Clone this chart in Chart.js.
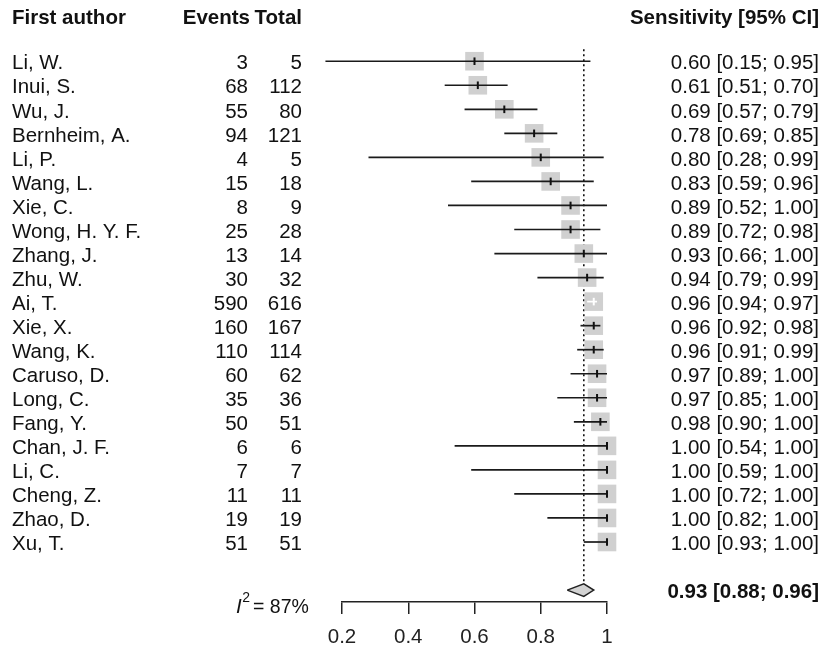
<!DOCTYPE html>
<html>
<head>
<meta charset="utf-8">
<script src="https://cdn.jsdelivr.net/npm/chart.js@4.4.1/dist/chart.umd.min.js"></script>
<style>
  html, body { margin: 0; padding: 0; background: #ffffff; }
  #wrap { width: 825px; height: 660px; position: relative; }
</style>
</head>
<body>
<div id="wrap"><canvas id="c" width="825" height="660"></canvas></div>
<script>
// ---------------- data ----------------
const authors = ["Li, W.", "Inui, S.", "Wu, J.", "Bernheim, A.", "Li, P.", "Wang, L.", "Xie, C.",
  "Wong, H. Y. F.", "Zhang, J.", "Zhu, W.", "Ai, T.", "Xie, X.", "Wang, K.", "Caruso, D.",
  "Long, C.", "Fang, Y.", "Chan, J. F.", "Li, C.", "Cheng, Z.", "Zhao, D.", "Xu, T."];
const events = [3, 68, 55, 94, 4, 15, 8, 25, 13, 30, 590, 160, 110, 60, 35, 50, 6, 7, 11, 19, 51];
const totals = [5, 112, 80, 121, 5, 18, 9, 28, 14, 32, 616, 167, 114, 62, 36, 51, 6, 7, 11, 19, 51];
const sensitivity = [0.60, 0.61, 0.69, 0.78, 0.80, 0.83, 0.89, 0.89, 0.93, 0.94, 0.96, 0.96, 0.96, 0.97, 0.97, 0.98, 1.00, 1.00, 1.00, 1.00, 1.00];
const lowerCI = [0.15, 0.51, 0.57, 0.69, 0.28, 0.59, 0.52, 0.72, 0.66, 0.79, 0.94, 0.92, 0.91, 0.89, 0.85, 0.90, 0.54, 0.59, 0.72, 0.82, 0.93];
const upperCI = [0.95, 0.70, 0.79, 0.85, 0.99, 0.96, 1.00, 0.98, 1.00, 0.99, 0.97, 0.98, 0.99, 1.00, 1.00, 1.00, 1.00, 1.00, 1.00, 1.00, 1.00];
const pooled = [0.93, 0.88, 0.96];   // estimate, lower, upper
const i2Value = 87;
const xTickValues = [0.2, 0.4, 0.6, 0.8, 1.0];
const headers = ["First author", "Events", "Total", "Sensitivity [95% CI]"];

// ---------------- layout constants ----------------
const FONT = '"Liberation Sans", Arial, Helvetica, sans-serif';
const FS = 20.5;
const SQUARE_SIDE = 18.6;
const summaryRow = authors.length + 1;

const fmt = v => v.toFixed(2);

// datasets built from the arrays
const squarePts = sensitivity.map((v, i) => ({ x: v, y: i }));
const ciPts = [];
lowerCI.forEach((lo, i) => {
  ciPts.push({ x: lo, y: i });
  ciPts.push({ x: upperCI[i], y: i });
  ciPts.push({ x: upperCI[i], y: null });
});
const diamondPts = [
  { x: pooled[1], y: summaryRow },
  { x: pooled[0], y: summaryRow - 0.26 },
  { x: pooled[2], y: summaryRow },
  { x: pooled[0], y: summaryRow + 0.26 },
  { x: pooled[1], y: summaryRow }
];
const refLinePts = [{ x: pooled[0], y: -0.5 }, { x: pooled[0], y: summaryRow }];

function ciInside(chart, i) {
  const xs = chart.scales.x;
  return (xs.getPixelForValue(upperCI[i]) - xs.getPixelForValue(lowerCI[i])) < SQUARE_SIDE;
}

const textPlugin = {
  id: 'forestText',
  afterDraw(chart) {
    const ctx = chart.ctx;
    const ys = chart.scales.y;
    ctx.save();
    ctx.fillStyle = '#111';
    ctx.textBaseline = 'alphabetic';
    // headers
    ctx.font = 'bold ' + FS + 'px ' + FONT;
    ctx.textAlign = 'left';
    ctx.fillText(headers[0], 12, 24);
    ctx.textAlign = 'right';
    ctx.fillText(headers[1], 250, 24);
    ctx.fillText(headers[2], 302, 24);
    ctx.fillText(headers[3], 819, 24);
    // rows
    ctx.font = FS + 'px ' + FONT;
    authors.forEach((a, i) => {
      const y = ys.getPixelForValue(i) + 8.2;
      ctx.textAlign = 'left';
      ctx.fillText(a, 12, y);
      ctx.textAlign = 'right';
      ctx.fillText(String(events[i]), 248, y);
      ctx.fillText(String(totals[i]), 302, y);
      ctx.fillText(fmt(sensitivity[i]) + ' [' + fmt(lowerCI[i]) + '; ' + fmt(upperCI[i]) + ']', 819, y);
    });
    // summary
    const sy = ys.getPixelForValue(summaryRow) + 8.2;
    ctx.font = 'bold ' + FS + 'px ' + FONT;
    ctx.textAlign = 'right';
    ctx.fillText(fmt(pooled[0]) + ' [' + fmt(pooled[1]) + '; ' + fmt(pooled[2]) + ']', 819, sy);
    // I^2
    const iy = 613;
    ctx.textAlign = 'left';
    ctx.font = 'italic ' + FS + 'px ' + FONT;
    ctx.fillText('I', 236, iy);
    let x = 236 + ctx.measureText('I').width + 0.5;
    ctx.font = '14px ' + FONT;
    ctx.fillText('2', x, iy - 11);
    x += ctx.measureText('2').width + 3;
    ctx.font = '19.5px ' + FONT;
    ctx.fillText('= ' + i2Value + '%', x, iy);
    ctx.restore();
  }
};

new Chart(document.getElementById('c'), {
  type: 'scatter',
  data: {
    datasets: [
      { // reference dotted line
        type: 'line', data: refLinePts, order: 10, clip: false,
        borderColor: '#111', borderWidth: 1.6, borderDash: [2, 3],
        pointRadius: 0, fill: false
      },
      { // squares
        data: squarePts, order: 5, clip: false,
        pointStyle: 'rect', pointRadius: SQUARE_SIDE / (2 * Math.SQRT1_2),
        backgroundColor: '#d0d0d0', borderWidth: 0, borderColor: 'rgba(0,0,0,0)'
      },
      { // CI lines
        type: 'line', data: ciPts, order: 3, clip: false, spanGaps: false,
        borderColor: '#1a1a1a', borderWidth: 1.7, pointRadius: 0, fill: false,
        segment: {
          borderColor: c => ((c.p1.x - c.p0.x) < SQUARE_SIDE ? '#ffffff' : '#1a1a1a')
        }
      },
      { // point estimate ticks
        data: squarePts, order: 2, clip: false,
        pointStyle: 'line', rotation: 90, pointRadius: 3.8, borderWidth: 2,
        borderColor: c => (c.dataIndex !== undefined && ciInside(c.chart, c.dataIndex) ? '#ffffff' : '#111')
      },
      { // pooled diamond
        type: 'line', data: diamondPts, order: 1, clip: false,
        borderColor: '#222', borderWidth: 1.5, backgroundColor: '#d3d3d3',
        fill: 'shape', pointRadius: 0, tension: 0
      }
    ]
  },
  options: {
    responsive: false,
    animation: false,
    events: [],
    layout: { padding: { left: 342, right: 218, top: 12.9, bottom: 0 } },
    plugins: { legend: { display: false }, tooltip: { enabled: false } },
    scales: {
      x: {
        type: 'linear', min: 0.2, max: 1.0,
        afterBuildTicks: axis => { axis.ticks = xTickValues.map(v => ({ value: v })); },
        afterFit: axis => { axis.height = 57.9; },
        ticks: {
          autoSkip: false, maxRotation: 0, padding: 11, color: '#222',
          font: { family: FONT, size: FS },
          callback: v => String(parseFloat(v.toFixed(1)))
        },
        grid: { drawOnChartArea: false, drawTicks: true, tickLength: 12, color: '#222', lineWidth: 1.5 },
        border: { display: true, color: '#222', width: 1.5 }
      },
      y: {
        type: 'linear', display: false, reverse: true, min: -2, max: 22.5
      }
    }
  },
  plugins: [textPlugin]
});
</script>
</body>
</html>
